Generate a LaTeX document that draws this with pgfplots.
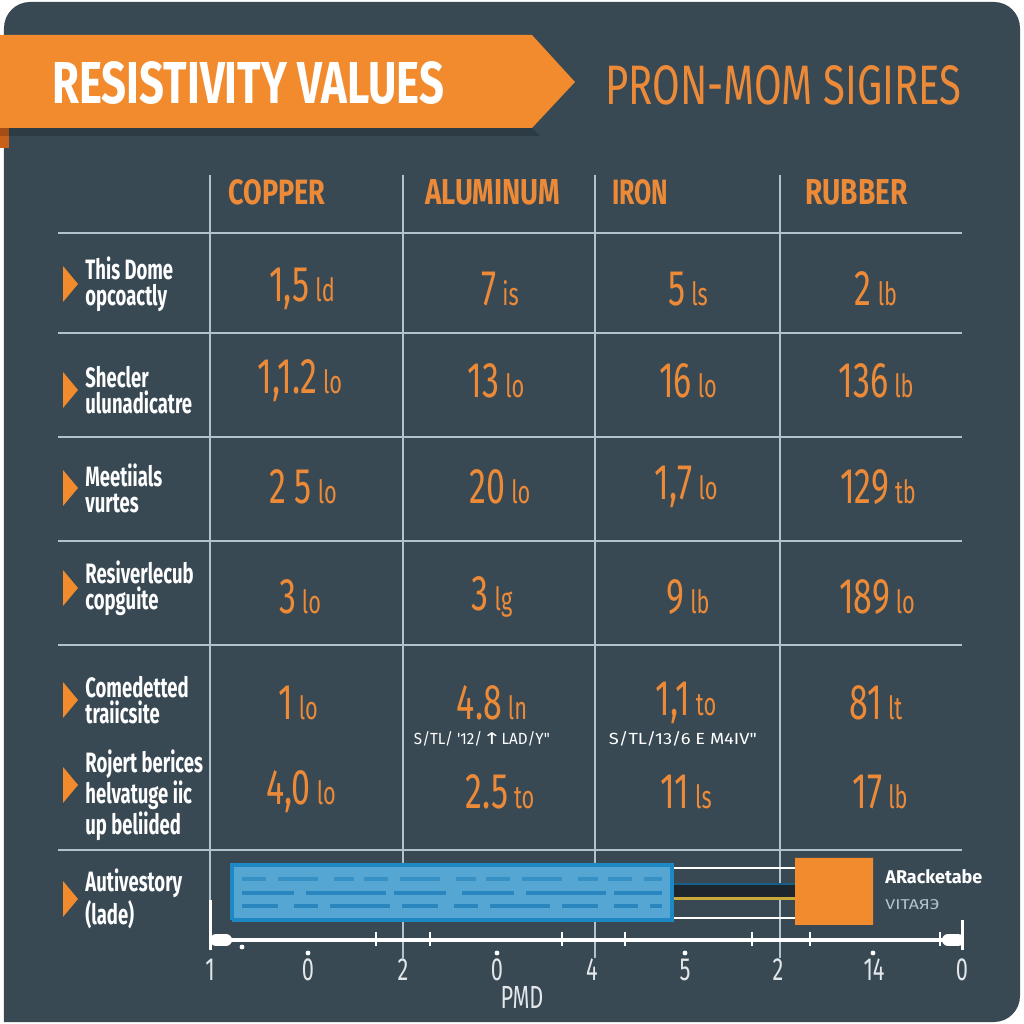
\documentclass[border=0pt]{standalone}
\usepackage{graphicx}
\usepackage{pgfplots}
\pgfplotsset{compat=1.18}
\usepackage{fontspec}
\setmainfont{Fira Sans}
\newfontfamily\numf[FakeStretch=0.68]{Fira Sans}
\newfontfamily\labf[FakeStretch=0.66]{Fira Sans}
\newfontfamily\dejavu{DejaVu Sans}
\definecolor{bg}{HTML}{384954}
\definecolor{org}{HTML}{F28A2E}
\definecolor{orgdark}{HTML}{C9601A}
\definecolor{orgtxt}{HTML}{EC8A38}
\definecolor{gridc}{HTML}{B4C3CB}
\definecolor{bluefill}{HTML}{55A6D3}
\definecolor{blueedge}{HTML}{1E88C4}
\definecolor{bluedash}{HTML}{2A86BE}
\definecolor{band}{HTML}{1D262C}
\definecolor{yel}{HTML}{C9A93A}
\definecolor{ticktxt}{HTML}{E3E7EA}
\newcommand\val[2]{{\numf\fontsize{25}{25}\selectfont #1}\hspace{3pt}{\numf\fontsize{16}{16}\selectfont #2}}
\tikzset{lab/.style={anchor=west, text=white, align=left, inner sep=0pt, font=\labf\bfseries\fontsize{14}{13}\selectfont},
  valn/.style={text=orgtxt, inner sep=0pt},
  tk/.style={text=ticktxt, inner sep=0pt, font=\numf\fontsize{16}{16}\selectfont}}
\begin{document}
\begin{tikzpicture}
\begin{axis}[scale only axis, width=512pt, height=512pt,
  xmin=0, xmax=1024, ymin=0, ymax=1024,
  axis lines=none, ticks=none, clip=false]
% canvas and background
\addplot[fill=white, draw=none] coordinates {(0,0) (1024,0) (1024,1024) (0,1024) (0,0)};
\addplot[fill=bg, draw=none, rounded corners=13pt] coordinates {(4,2) (1020,2) (1020,1022) (4,1022) (4,2)};
% banner
\addplot[fill=orgdark, draw=none] coordinates {(0,876) (9,876) (9,896) (0,896) (0,876)};
\addplot[fill=black, fill opacity=0.18, draw=none] coordinates {(0,896) (532,896) (540,888) (0,888) (0,896)};
\addplot[fill=org, draw=none] coordinates {(0,989) (532,989) (575,942) (532,896) (0,896) (0,989)};
\node[anchor=west, text=white, inner sep=0pt] at (axis cs:52,941) {\resizebox{196pt}{21pt}{\bfseries RESISTIVITY VALUES}};
\node[anchor=west, text=orgtxt, inner sep=0pt] at (axis cs:605,939) {\resizebox{178pt}{19.5pt}{PRON-MOM SIGIRES}};
% grid lines
\addplot[gridc, line width=1.1pt] coordinates {(210,849) (210,74)};
\addplot[gridc, line width=1.1pt] coordinates {(403,849) (403,66)};
\addplot[gridc, line width=1.1pt] coordinates {(595,849) (595,66)};
\addplot[gridc, line width=1.1pt] coordinates {(780,849) (780,66)};
\addplot[gridc, line width=1.1pt] coordinates {(58,791) (962,791)};
\addplot[gridc, line width=1.1pt] coordinates {(58,691) (962,691)};
\addplot[gridc, line width=1.1pt] coordinates {(58,587) (962,587)};
\addplot[gridc, line width=1.1pt] coordinates {(58,483) (962,483)};
\addplot[gridc, line width=1.1pt] coordinates {(58,379) (962,379)};
\addplot[gridc, line width=1.1pt] coordinates {(58,174) (962,174)};
% headers
\node[anchor=west, text=orgtxt, inner sep=0pt] at (axis cs:228,832) {\resizebox{48.5pt}{12.5pt}{\bfseries COPPER}};
\node[anchor=west, text=orgtxt, inner sep=0pt] at (axis cs:425,832) {\resizebox{67.5pt}{12.5pt}{\bfseries ALUMINUM}};
\node[anchor=west, text=orgtxt, inner sep=0pt] at (axis cs:612,832) {\resizebox{28pt}{12.5pt}{\bfseries IRON}};
\node[anchor=west, text=orgtxt, inner sep=0pt] at (axis cs:805,832) {\resizebox{51pt}{12.5pt}{\bfseries RUBBER}};
% triangles
\addplot[fill=org, draw=none] coordinates {(63,758) (78,740) (63,722) (63,758)};
\addplot[fill=org, draw=none] coordinates {(63,652) (78,634) (63,616) (63,652)};
\addplot[fill=org, draw=none] coordinates {(63,554) (78,536) (63,518) (63,554)};
\addplot[fill=org, draw=none] coordinates {(63,454) (78,436) (63,418) (63,454)};
\addplot[fill=org, draw=none] coordinates {(63,342) (78,324) (63,306) (63,342)};
\addplot[fill=org, draw=none] coordinates {(63,257) (78,239) (63,221) (63,257)};
\addplot[fill=org, draw=none] coordinates {(63,143) (78,125) (63,107) (63,143)};
% left labels
\node[lab] at (axis cs:85,740) {This Dome\\opcoactly};
\node[lab] at (axis cs:85,634) {Shecler\\ulunadicatre};
\node[lab] at (axis cs:85,536) {Meetiials\\vurtes};
\node[lab] at (axis cs:85,436) {Resiverlecub\\copguite};
\node[lab] at (axis cs:85,324) {Comedetted\\traiicsite};
\node[lab] at (axis cs:85,229) {Rojert berices\\helvatuge iic\\up beliided};
\node[lab] at (axis cs:85,125) {Autivestory\\(lade)};
% values
\node[valn] at (axis cs:302,735) {\val{1,5}{ld}};
\node[valn] at (axis cs:500,735) {\val{7}{is}};
\node[valn] at (axis cs:688,735) {\val{5}{ls}};
\node[valn] at (axis cs:876,735) {\val{2}{lb}};
\node[valn] at (axis cs:300,643) {\val{1,1.2}{lo}};
\node[valn] at (axis cs:496,643) {\val{13}{lo}};
\node[valn] at (axis cs:688,643) {\val{16}{lo}};
\node[valn] at (axis cs:876,643) {\val{136}{lb}};
\node[valn] at (axis cs:303,537) {\val{2 5}{lo}};
\node[valn] at (axis cs:500,537) {\val{20}{lo}};
\node[valn] at (axis cs:686,537) {\val{1,7}{lo}};
\node[valn] at (axis cs:878,537) {\val{129}{tb}};
\node[valn] at (axis cs:300,427) {\val{3}{lo}};
\node[valn] at (axis cs:492,427) {\val{3}{lg}};
\node[valn] at (axis cs:688,427) {\val{9}{lb}};
\node[valn] at (axis cs:877,427) {\val{189}{lo}};
\node[valn] at (axis cs:298,321) {\val{1}{lo}};
\node[valn] at (axis cs:492,321) {\val{4.8}{ln}};
\node[valn] at (axis cs:686,321) {\val{1,1}{to}};
\node[valn] at (axis cs:876,321) {\val{81}{lt}};
\node[valn] at (axis cs:301,232) {\val{4,0}{lo}};
\node[valn] at (axis cs:500,232) {\val{2.5}{to}};
\node[valn] at (axis cs:686,232) {\val{11}{ls}};
\node[valn] at (axis cs:880,232) {\val{17}{lb}};
\node[text=white, inner sep=0pt] at (axis cs:482,285) {\resizebox{68pt}{6.5pt}{\labf S/TL/ '12/{\dejavu ↑}LAD/Y"}};
\node[text=white, inner sep=0pt] at (axis cs:683,285) {\resizebox{74pt}{6.5pt}{\labf S/TL/13/6 E M4IV"}};
% bottom bar
\addplot[fill=bluefill, draw=blueedge, line width=2pt] coordinates {(232,104) (672,104) (672,159) (232,159) (232,104)};
\addplot[bluedash!70!bluefill, line width=2pt, dash pattern=on 12pt off 6pt on 20pt off 8pt on 10pt off 5pt] coordinates {(242,145) (662,145)};
\addplot[bluedash, line width=2pt, dash pattern=on 26pt off 6pt on 40pt off 4pt on 26pt off 8pt] coordinates {(242,131) (662,131)};
\addplot[bluedash, line width=2pt, dash pattern=on 18pt off 8pt on 12pt off 6pt on 30pt off 6pt] coordinates {(242,118) (662,118)};
\addplot[fill=band, draw=none] coordinates {(674,124) (795,124) (795,140) (674,140) (674,124)};
\addplot[white, line width=1.3pt] coordinates {(674,156) (795,156)};
\addplot[blueedge!70!black, line width=1pt] coordinates {(674,140) (795,140)};
\addplot[yel, line width=1.5pt] coordinates {(674,125) (795,125)};
\addplot[white, line width=1.3pt] coordinates {(674,106) (795,106)};
\addplot[fill=org, draw=none] coordinates {(795,99) (873,99) (873,166) (795,166) (795,99)};
\node[anchor=west, text=white, inner sep=0pt] at (axis cs:885,147) {\resizebox{48.5pt}{7pt}{\bfseries ARacketabe}};
\node[anchor=west, text=gridc, inner sep=0pt] at (axis cs:885,119) {\resizebox{27pt}{5pt}{\labf VITAЯЭ}};
% bottom axis
\addplot[white, line width=2pt] coordinates {(214,84) (960,84)};
\addplot[white, line width=6pt, line cap=round] coordinates {(216,84) (226,84)};
\addplot[white, line width=6pt, line cap=round] coordinates {(948,84) (958,84)};
\addplot[white, line width=1.5pt] coordinates {(210,124) (210,74)};
\addplot[white, line width=1.5pt] coordinates {(962,104) (962,74)};
\addplot[white, line width=1.2pt] coordinates {(376,92) (376,78)};
\addplot[white, line width=1.2pt] coordinates {(430,92) (430,78)};
\addplot[white, line width=1.2pt] coordinates {(562,92) (562,78)};
\addplot[white, line width=1.2pt] coordinates {(625,92) (625,78)};
\addplot[white, line width=1.2pt] coordinates {(752,92) (752,78)};
\addplot[white, line width=1.2pt] coordinates {(810,92) (810,78)};
\addplot[white, line width=1.2pt] coordinates {(940,92) (940,78)};
\addplot[only marks, mark=*, mark size=1pt, white] coordinates {(242,77) (308,71) (497,71) (685,71) (873,71)};
\node[tk] at (axis cs:210,54) {1};
\node[tk] at (axis cs:308,54) {0};
\node[tk] at (axis cs:403,54) {2};
\node[tk] at (axis cs:497,54) {0};
\node[tk] at (axis cs:592,54) {4};
\node[tk] at (axis cs:685,54) {5};
\node[tk] at (axis cs:778,54) {2};
\node[tk] at (axis cs:874,54) {14};
\node[tk] at (axis cs:962,54) {0};
\node[tk] at (axis cs:522,27) {PMD};
\end{axis}
\end{tikzpicture}
\end{document}
